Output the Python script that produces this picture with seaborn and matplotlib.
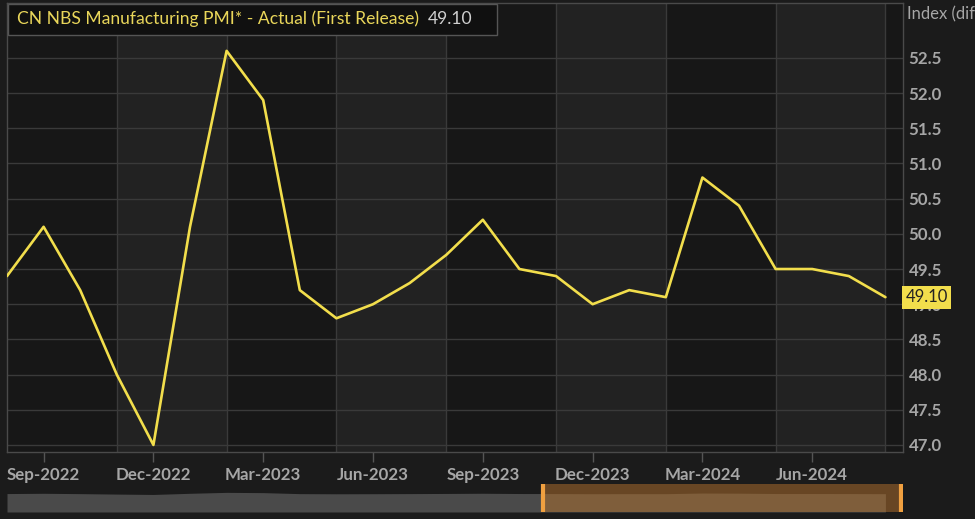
import matplotlib
matplotlib.use("Agg")
import matplotlib.pyplot as plt
from matplotlib.patches import Rectangle
import seaborn as sns
import pandas as pd

# monthly data, Aug-2022 .. Aug-2024
months = ["Aug-2022", "Sep-2022", "Oct-2022", "Nov-2022", "Dec-2022",
          "Jan-2023", "Feb-2023", "Mar-2023", "Apr-2023", "May-2023",
          "Jun-2023", "Jul-2023", "Aug-2023", "Sep-2023", "Oct-2023",
          "Nov-2023", "Dec-2023", "Jan-2024", "Feb-2024", "Mar-2024",
          "Apr-2024", "May-2024", "Jun-2024", "Jul-2024", "Aug-2024"]
pmi = [49.4, 50.1, 49.2, 48.0, 47.0, 50.1, 52.6, 51.9, 49.2, 48.8,
       49.0, 49.3, 49.7, 50.2, 49.5, 49.4, 49.0, 49.2, 49.1, 50.8,
       50.4, 49.5, 49.5, 49.4, 49.1]
tick_labels = ["Sep-2022", "Dec-2022", "Mar-2023", "Jun-2023",
               "Sep-2023", "Dec-2023", "Mar-2024", "Jun-2024"]
y_ticks = [47.0, 47.5, 48.0, 48.5, 49.0, 49.5, 50.0, 50.5, 51.0, 51.5, 52.0, 52.5]

series_name = "CN NBS Manufacturing PMI* - Actual (First Release)"
last_label = "49.10"

df = pd.DataFrame({"month": months, "pmi": pmi})
df["idx"] = range(len(df))

sns.set_theme(style="dark")
plt.rcParams["font.family"] = ["Lato", "DejaVu Sans"]

BG = "#1b1b1b"
DARK = "#171717"
LIGHT = "#222222"
GRID = "#3a3a3a"
TXT = "#a6a6a6"
YEL = "#f2de4c"

fig = plt.figure(figsize=(9.75, 5.19), dpi=100, facecolor=BG)
ax = fig.add_axes([7 / 975, 1 - 452 / 519, 896 / 975, 449 / 519])
ax.set_facecolor(DARK)

# alternating quarter bands, gridlines at Nov/Feb/May/Aug
band_edges = [i for i in range(0, 27, 3)]
for k, e in enumerate(band_edges):
    ax.axvspan(e, e + 3, color=LIGHT if k % 2 == 1 else DARK, lw=0, zorder=0)
for e in band_edges[1:]:
    ax.axvline(e, color=GRID, lw=1, zorder=1)
for yv in y_ticks:
    ax.axhline(yv, color=GRID, lw=1, zorder=1)

sns.lineplot(data=df, x="idx", y="pmi", ax=ax, color=YEL, lw=1.9, zorder=3)

ax.set_xlim(0, 24.48)
ax.set_ylim(46.9, 53.28)
ax.set_xlabel("")
ax.set_ylabel("")
ax.grid(False)

tick_pos = [months.index(t) for t in tick_labels]
ax.set_xticks(tick_pos)
ax.set_xticklabels(tick_labels, color=TXT, fontsize=12.2, fontweight="bold")
ax.tick_params(axis="x", length=7, color="#555555", width=1, pad=4, bottom=True)

ax.yaxis.tick_right()
ax.set_yticks(y_ticks)
ax.set_yticklabels([f"{v:.1f}" for v in y_ticks], color=TXT, fontsize=12.2, fontweight="bold")
ax.tick_params(axis="y", length=0, pad=4)

for s in ax.spines.values():
    s.set_color("#4a4a4a")
    s.set_linewidth(1)

# legend box
fig.patches.append(Rectangle((8 / 975, 1 - 35 / 519), 489 / 975, 31 / 519,
                             transform=fig.transFigure, fc="#101010", ec="#555555",
                             lw=1, zorder=5))
fig.text(17 / 975, 1 - 19 / 519, series_name, color="#e9d65a", fontsize=12.6,
         va="center", ha="left", zorder=6)
fig.text(428 / 975, 1 - 19 / 519, last_label, color="#cfcfcf", fontsize=12.6,
         va="center", ha="left", zorder=6)

# axis unit label at top right
fig.text(907 / 975, 1 - 14 / 519, "Index (diff", color=TXT, fontsize=12,
         va="center", ha="left")

# last value marker on axis
ax.text(1.003, pmi[-1], last_label, transform=ax.get_yaxis_transform(), color="#222222",
        fontsize=12, va="center", ha="left", zorder=6,
        bbox=dict(boxstyle="square,pad=0.2", fc=YEL, ec="none"))

# navigator strip
nav = fig.add_axes([7 / 975, 1 - 512 / 519, 896 / 975, 28 / 519])
nav.set_facecolor(BG)
nav.fill_between(df["idx"], 0, df["pmi"], color="#4a4a4a", lw=0)
nav.axvspan(14.65, 24.48, color="#b5722d", alpha=0.5, lw=0)
nav.axvline(14.65, color="#f0a040", lw=3)
nav.axvline(24.43, color="#f0a040", lw=3)
nav.set_xlim(0, 24.48)
nav.set_ylim(0, 75)
nav.set_xticks([])
nav.set_yticks([])
for s in nav.spines.values():
    s.set_visible(False)

fig.savefig("out.png", dpi=100, facecolor=BG)
